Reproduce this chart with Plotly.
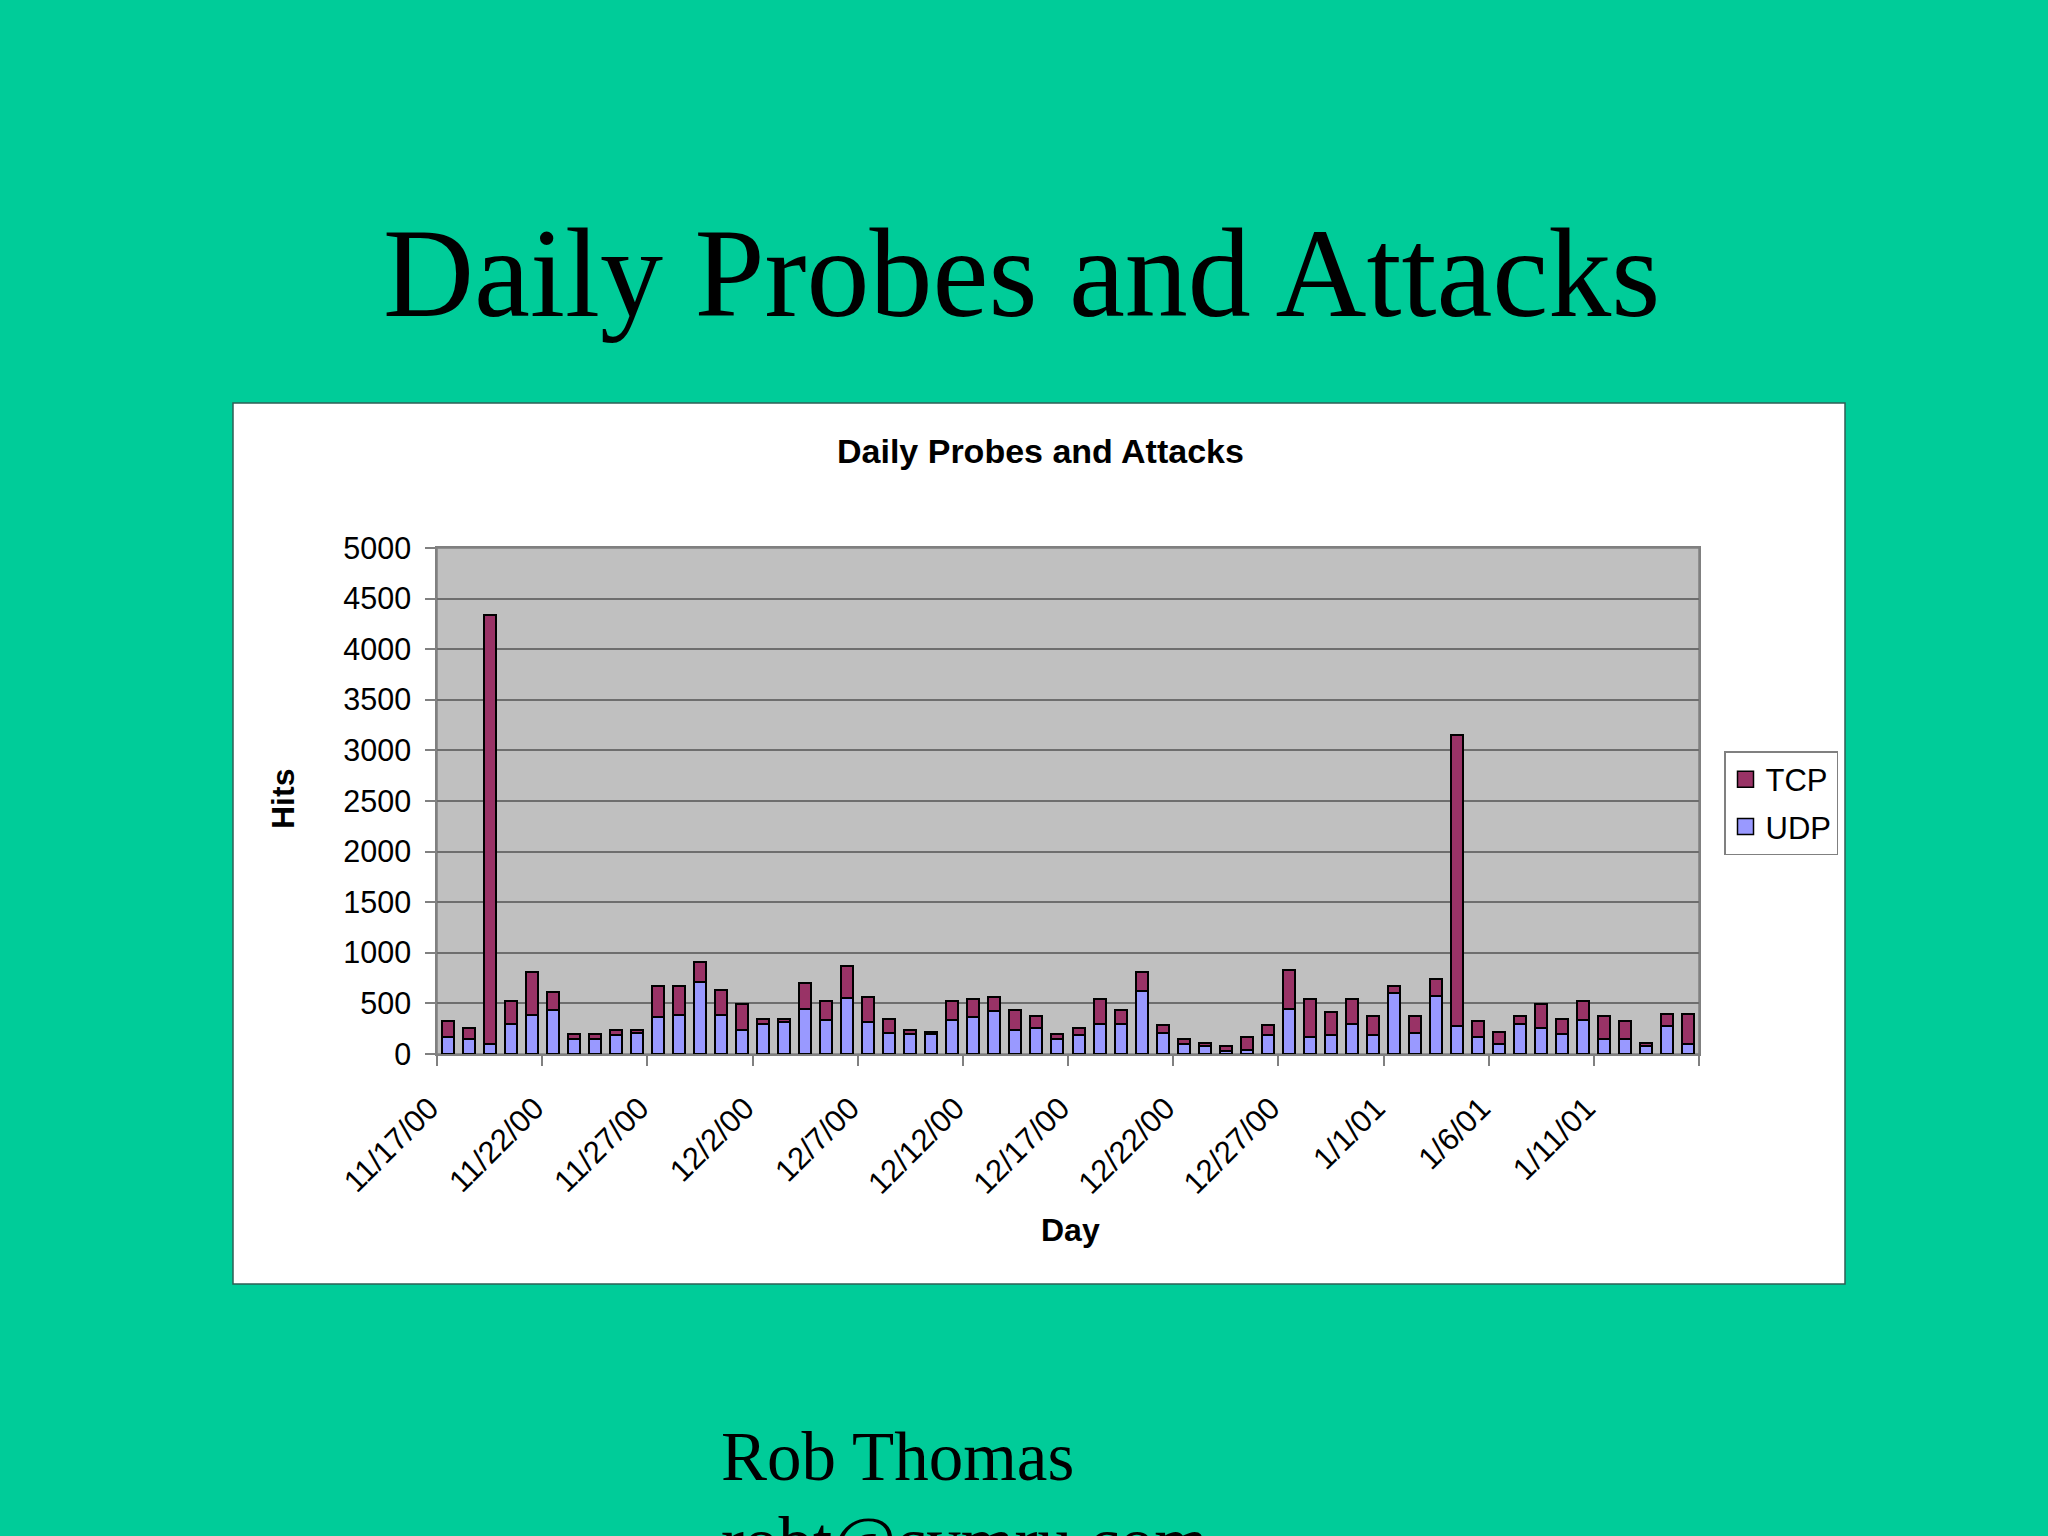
import plotly.graph_objects as go

# ---------------- data ----------------
days = [
    "11/17/00", "11/18/00", "11/19/00", "11/20/00", "11/21/00", "11/22/00", "11/23/00", "11/24/00",
    "11/25/00", "11/26/00", "11/27/00", "11/28/00", "11/29/00", "11/30/00", "12/1/00", "12/2/00",
    "12/3/00", "12/4/00", "12/5/00", "12/6/00", "12/7/00", "12/8/00", "12/9/00", "12/10/00",
    "12/11/00", "12/12/00", "12/13/00", "12/14/00", "12/15/00", "12/16/00", "12/17/00", "12/18/00",
    "12/19/00", "12/20/00", "12/21/00", "12/22/00", "12/23/00", "12/24/00", "12/25/00", "12/26/00",
    "12/27/00", "12/28/00", "12/29/00", "12/30/00", "12/31/00", "1/1/01", "1/2/01", "1/3/01",
    "1/4/01", "1/5/01", "1/6/01", "1/7/01", "1/8/01", "1/9/01", "1/10/01", "1/11/01",
    "1/12/01", "1/13/01", "1/14/01", "1/15/01",
]
udp = [
    167, 150, 102, 299, 388, 432, 150, 150, 187, 204,
    364, 384, 714, 384, 238, 296, 320, 449, 340, 554,
    320, 211, 194, 200, 340, 364, 425, 238, 255, 150,
    187, 296, 296, 626, 211, 102, 75, 34, 41, 187,
    449, 167, 187, 296, 187, 602, 211, 578, 279, 167,
    102, 296, 255, 194, 340, 150, 150, 75, 279, 102,
]
tcp = [
    163, 105, 4238, 225, 418, 177, 44, 44, 51, 34,
    309, 289, 197, 245, 258, 51, 27, 248, 184, 313,
    244, 136, 44, 18, 184, 177, 139, 197, 116, 44,
    71, 245, 139, 183, 71, 48, 30, 48, 129, 95,
    377, 374, 224, 245, 184, 71, 160, 163, 2871, 159,
    116, 75, 241, 153, 184, 221, 176, 30, 112, 289,
]
y_ticks = [0, 500, 1000, 1500, 2000, 2500, 3000, 3500, 4000, 4500, 5000]

TCP_COLOR = "#993366"
UDP_COLOR = "#9999FF"

# ---------------- geometry helpers (pixel -> paper) ----------------
W, H = 2048, 1536
PL, PR, PT, PB = 437, 1699, 548, 1054  # plot-area pixel bounds


def px(xp):
    return (xp - PL) / (PR - PL)


def py(yp):
    return (PB - yp) / (PB - PT)


SANS = "Liberation Sans, Arial, sans-serif"
SERIF = "Liberation Serif, Times New Roman, serif"

fig = go.Figure()
fig.add_trace(go.Bar(
    x=days, y=udp, name="UDP", showlegend=False,
    marker=dict(color=UDP_COLOR, line=dict(color="black", width=2)),
))
fig.add_trace(go.Bar(
    x=days, y=tcp, name="TCP", showlegend=False,
    marker=dict(color=TCP_COLOR, line=dict(color="black", width=2)),
))
# legend entries (larger square swatches like the original), TCP listed first
fig.add_trace(go.Scatter(
    x=[None], y=[None], mode="markers", name="TCP", legendgroup="tcp",
    marker=dict(symbol="square", size=19, color=TCP_COLOR, line=dict(color="black", width=1.5)),
))
fig.add_trace(go.Scatter(
    x=[None], y=[None], mode="markers", name="UDP", legendgroup="udp",
    marker=dict(symbol="square", size=19, color=UDP_COLOR, line=dict(color="black", width=1.5)),
))

shapes = [
    # white chart box
    dict(type="rect", xref="paper", yref="paper", layer="below",
         x0=px(233), x1=px(1845), y0=py(1284), y1=py(403),
         fillcolor="white", line=dict(color="#2f5f55", width=1.5)),
    # gray plot area
    dict(type="rect", xref="paper", yref="paper", layer="below",
         x0=0, x1=1, y0=0, y1=1,
         fillcolor="#C0C0C0", line=dict(color="#808080", width=1.5)),
]

annotations = [
    dict(text="Daily Probes and Attacks", xref="paper", yref="paper",
         x=px(1021), y=py(273), xanchor="center", yanchor="middle", showarrow=False,
         font=dict(family=SERIF, size=126, color="black")),
    dict(text="<b>Daily Probes and Attacks</b>", xref="paper", yref="paper",
         x=px(1040), y=py(451), xanchor="center", yanchor="middle", showarrow=False,
         font=dict(family=SANS, size=34, color="black")),
    dict(text="<b>Hits</b>", xref="paper", yref="paper", textangle=-90,
         x=px(283), y=py(799), xanchor="center", yanchor="middle", showarrow=False,
         font=dict(family=SANS, size=32, color="black")),
    dict(text="<b>Day</b>", xref="paper", yref="paper",
         x=px(1070), y=py(1230), xanchor="center", yanchor="middle", showarrow=False,
         font=dict(family=SANS, size=32, color="black")),
    dict(text="Rob Thomas", xref="paper", yref="paper",
         x=px(719), y=py(1457), xanchor="left", yanchor="middle", showarrow=False,
         font=dict(family=SERIF, size=69, color="black")),
    dict(text="robt@cymru.com", xref="paper", yref="paper",
         x=px(719), y=py(1542), xanchor="left", yanchor="middle", showarrow=False,
         font=dict(family=SERIF, size=69, color="black")),
]

fig.update_layout(
    width=W, height=H,
    margin=dict(l=PL, r=W - PR, t=PT, b=H - PB, pad=0),
    paper_bgcolor="#00CC99",
    plot_bgcolor="rgba(0,0,0,0)",
    barmode="stack",
    bargap=0.43,
    showlegend=True,
    legend=dict(
        x=px(1724), y=py(751), xanchor="left", yanchor="top",
        bgcolor="white", bordercolor="#808080", borderwidth=1.5,
        traceorder="grouped",
        tracegroupgap=4,
        font=dict(family=SANS, size=31, color="black"),
        itemwidth=30,
    ),
    shapes=shapes,
    annotations=annotations,
    xaxis=dict(
        type="category",
        tickmode="linear", tick0=0, dtick=5,
        tickson="boundaries",
        ticks="outside", ticklen=10, tickcolor="#808080", tickwidth=1.5,
        tickangle=-45,
        tickfont=dict(family=SANS, size=31, color="black"),
        ticklabelstandoff=22,
        ticklabelshift=-18,
        showgrid=False, zeroline=False,
        showline=True, linecolor="#808080", linewidth=1.5, mirror=True,
        range=[-0.5, len(days) - 0.5],
    ),
    yaxis=dict(
        range=[0, 5000],
        tickvals=y_ticks,
        ticks="outside", ticklen=10, tickcolor="#808080", tickwidth=1.5,
        tickfont=dict(family=SANS, size=30.5, color="black"),
        ticklabelstandoff=8,
        showgrid=True, gridcolor="#6e6e6e", gridwidth=1.5,
        zeroline=False,
        showline=True, linecolor="#808080", linewidth=1.5, mirror=True,
    ),
)

fig.write_html(
    "out.html",
    config={"displayModeBar": False},
    post_script="document.body.style.margin='0';document.body.style.overflow='hidden';",
)
